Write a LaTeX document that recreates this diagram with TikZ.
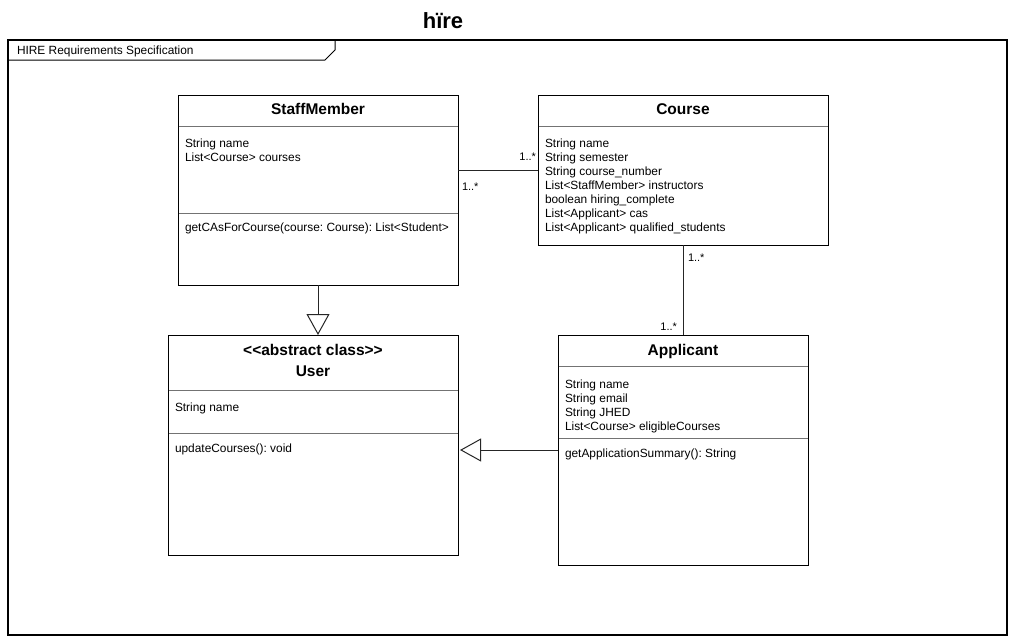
\documentclass[tikz,border=0pt]{standalone}
\usepackage{fontspec}
\setmainfont{Liberation Sans}
\usetikzlibrary{positioning,arrows.meta}
\frenchspacing

\begin{document}
\begin{tikzpicture}[
    x=1pt, y=-1pt,
    every node/.style     = {font=\fontsize{11.9}{14}\selectfont, inner sep=0pt, outer sep=0pt},
    umlclass/.style       = {draw, line width=1pt, anchor=north west},
    classname/.style      = {font=\bfseries\fontsize{15.5}{18}\selectfont, anchor=base},
    members/.style        = {align=left, anchor=north west},
    divider/.style        = {draw=black!55, line width=0.9pt, shorten <=0.5pt, shorten >=0.5pt},
    assoc/.style          = {draw=black!85, line width=1pt},
    generalization/.style = {draw=black!85, line width=1pt,
                             -{Triangle[open, length=21pt, width=23pt, fill=white]}},
    mult/.style           = {font=\fontsize{11}{13}\selectfont},
]
\useasboundingbox (0,0) rectangle (1017,637);

\node [font=\bfseries\fontsize{22}{26}\selectfont, anchor=base] (title) at (443,28) {hïre};

% frame
\node [draw, line width=1.2pt, minimum width=999, minimum height=595, anchor=north west] (frame) at (8,40) {};
\draw [line width=1pt] (frame.north west) ++(0,20) -- ++(317,0) -- ++(10,-10) -- ++(0,-10);
\node [anchor=base west] (frame-name) at ([xshift=9pt, yshift=-14pt]frame.north west) {HIRE Requirements Specification};

% StaffMember
\node [umlclass, minimum width=280, minimum height=190] (staff) at (178,95) {};
\node [classname] (staff-name) at ([yshift=-19.5pt]staff.north) {StaffMember};
\draw [divider] ([yshift=-31pt]staff.north west) -- ([yshift=-31pt]staff.north east);
\node [members] (staff-attrs) at ([xshift=7pt, yshift=-43.7pt]staff.north west)
    {String name\\List<Course> courses};
\draw [divider] ([yshift=-118pt]staff.north west) -- ([yshift=-118pt]staff.north east);
\node [members] (staff-ops) at ([xshift=7pt, yshift=-127.7pt]staff.north west)
    {getCAsForCourse(course: Course): List<Student>};

% Course
\node [umlclass, minimum width=290, minimum height=150] (course) at (538,95) {};
\node [classname] (course-name) at ([yshift=-19.5pt]course.north) {Course};
\draw [divider] ([yshift=-31pt]course.north west) -- ([yshift=-31pt]course.north east);
\node [members] (course-attrs) at ([xshift=7pt, yshift=-43.7pt]course.north west)
    {String name\\String semester\\String course\_number\\List<StaffMember> instructors\\
     boolean hiring\_complete\\List<Applicant> cas\\List<Applicant> qualified\_students};

% User
\node [umlclass, minimum width=290, minimum height=220] (user) at (168,335) {};
\node [classname] (user-stereo) at ([yshift=-20pt]user.north) {<\kern0pt<abstract class>\kern0pt>};
\node [classname] (user-name) at ([yshift=-41.7pt]user.north) {User};
\draw [divider] ([yshift=-55pt]user.north west) -- ([yshift=-55pt]user.north east);
\node [members] (user-attrs) at ([xshift=7pt, yshift=-67.7pt]user.north west) {String name};
\draw [divider] ([yshift=-98pt]user.north west) -- ([yshift=-98pt]user.north east);
\node [members] (user-ops) at ([xshift=7pt, yshift=-108.7pt]user.north west) {updateCourses(): void};

% Applicant
\node [umlclass, minimum width=250, minimum height=230] (applicant) at (558,335) {};
\node [classname] (applicant-name) at ([yshift=-20pt]applicant.north) {Applicant};
\draw [divider] ([yshift=-31pt]applicant.north west) -- ([yshift=-31pt]applicant.north east);
\node [members] (applicant-attrs) at ([xshift=7pt, yshift=-44.7pt]applicant.north west)
    {String name\\String email\\String JHED\\List<Course> eligibleCourses};
\draw [divider] ([yshift=-103pt]applicant.north west) -- ([yshift=-103pt]applicant.north east);
\node [members] (applicant-ops) at ([xshift=7pt, yshift=-113.7pt]applicant.north west)
    {getApplicationSummary(): String};

% associations
\coordinate (staff-side) at (staff.east |- course.west);
\draw [assoc] (staff-side) -- (course.west);
\node [mult, anchor=base east] (mult-course) at ([xshift=-2pt, yshift=10pt]course.west) {1..*};
\node [mult, anchor=base west] (mult-staff) at ([xshift=4pt, yshift=-20pt]staff-side) {1..*};

\draw [assoc] (course.south) -- (applicant.north);
\node [mult, anchor=base west] (mult-top) at ([xshift=5pt, yshift=-16pt]course.south) {1..*};
\node [mult, anchor=base east] (mult-bottom) at ([xshift=-6pt, yshift=5pt]applicant.north) {1..*};

% generalizations
\coordinate (staff-foot) at (staff.south |- user.north);
\draw [generalization] (staff.south) -- (staff-foot);
\coordinate (applicant-foot) at (applicant.west -| user.east);
\draw [generalization, shorten >=2pt] (applicant.west) -- (applicant-foot);
\end{tikzpicture}
\end{document}
